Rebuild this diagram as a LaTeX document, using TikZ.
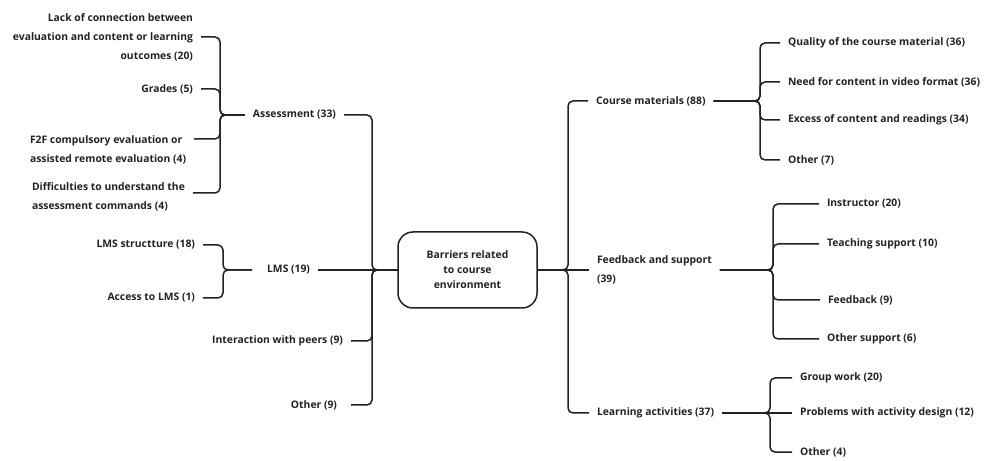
\documentclass[tikz,border=0pt]{standalone}
\usepackage{fontspec}
\setmainfont{Open Sans}
\definecolor{ink}{HTML}{222222}
\begin{document}
\begin{tikzpicture}[x=1bp,y=-1bp,
  every node/.style={font=\fontsize{10.4}{19}\selectfont\bfseries, text=ink, inner sep=0pt, outer xsep=8bp, outer ysep=0pt},
  lbl/.style={align=right, anchor=east},
  rlbl/.style={align=left, anchor=west},
  conn/.style={draw=ink, line width=1.5bp, rounded corners=5bp},
]
\useasboundingbox (0,0) rectangle (984,461);
% left nodes
\node[lbl] (lack) at (201,37) {Lack of connection between\\evaluation and content or learning\\outcomes (20)};
\node[lbl] (grades) at (201,89) {Grades (5)};
\node[rlbl] (f2f) at (22,149.5) {F2F compulsory evaluation or\\assisted remote evaluation (4)};
\node[rlbl] (diff) at (24,196.5) {Difficulties to understand the\\assessment commands (4)};
\node (ass) at (294.5,115) {Assessment (33)};
\node[lbl] (lmss) at (203,245) {LMS structture (18)};
\node[lbl] (lmsa) at (203,298) {Access to LMS (1)};
\node[lbl] (lms) at (318,270) {LMS (19)};
\node[lbl] (inter) at (351,341) {Interaction with peers (9)};
\node[lbl] (oth) at (345,405) {Other (9)};
% root
\node[draw=ink, line width=1.5bp, rounded corners=15bp, minimum width=139bp, minimum height=76bp, outer sep=0pt, align=center, font=\fontsize{10.4}{15}\selectfont\bfseries] (root) at (467.5,270) {Barriers related\\to course\\environment};
% right nodes
\node[rlbl] (cm) at (588,101) {Course materials (88)};
\node[rlbl] (fb) at (589,270) {Feedback and support\\(39)};
\node[rlbl] (la) at (589,413) {Learning activities (37)};
\node[rlbl] (cm1) at (780,43) {Quality of the course material (36)};
\node[rlbl] (cm2) at (780,82) {Need for content in video format (36)};
\node[rlbl] (cm3) at (780,120) {Excess of content and readings (34)};
\node[rlbl] (cm4) at (780,160) {Other (7)};
\node[rlbl] (fb1) at (819,204) {Instructor (20)};
\node[rlbl] (fb2) at (819,244) {Teaching support (10)};
\node[rlbl] (fb3) at (820,300) {Feedback (9)};
\node[rlbl] (fb4) at (819,339) {Other support (6)};
\node[rlbl] (la1) at (792,378) {Group work (20)};
\node[rlbl] (la2) at (792,413) {Problems with activity design (12)};
\node[rlbl] (la3) at (792,452) {Other (4)};
% junctions
\coordinate (jA) at (220,115);
\coordinate (jL) at (223,270);
\coordinate (tL) at (372,270);
\coordinate (tR) at (568,270);
\coordinate (jC) at (760,101);
\coordinate (jF) at (773,270);
\coordinate (jLa) at (770,413);
% left connectors
\draw[conn] (lack.east) -| (jA) -- (ass.west);
\draw[conn] (grades.east) -| (jA) -- (ass.west);
\draw[conn] ([yshift=10.5bp]f2f.east) -| (jA) -- (ass.west);
\draw[conn] ([yshift=3.5bp]diff.east) -| (jA) -- (ass.west);
\draw[conn] (lmss.east) -| (jL) -- ([xshift=-7bp]lms.west);
\draw[conn] (lmsa.east) -| (jL) -- ([xshift=-7bp]lms.west);
\draw[conn] (ass.east) -| (tL) -- (root.west);
\draw[conn] (lms.east) -- (root.west);
\draw[conn] (inter.east) -| (tL) -- (root.west);
\draw[conn] ([xshift=6bp]oth.east) -| (tL) -- (root.west);
% right connectors
\draw[conn] (root.east) -- (tR) |- (cm.west);
\draw[conn] (root.east) -- (fb.west);
\draw[conn] (root.east) -- (tR) |- (la.west);
\foreach \k in {cm1,cm2,cm3,cm4} \draw[conn] (cm.east) -- (jC) |- (\k.west);
\foreach \k in {fb1,fb2,fb3,fb4} \draw[conn] (fb.east) -- (jF) |- (\k.west);
\draw[conn] (la.east) -- (jLa) |- (la1.west);
\draw[conn] (la.east) -- (la2.west);
\draw[conn] (la.east) -- (jLa) |- (la3.west);
\end{tikzpicture}
\end{document}
